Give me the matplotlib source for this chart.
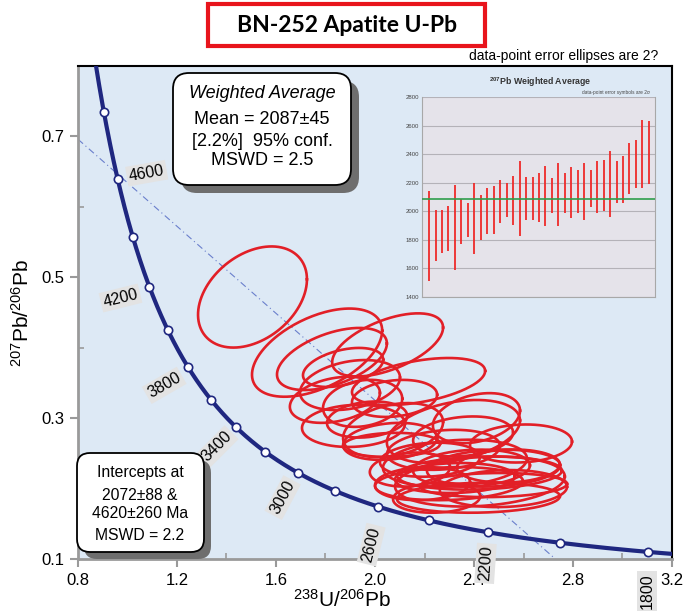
import numpy as np
import matplotlib
matplotlib.use('Agg')
import matplotlib.pyplot as plt
from matplotlib.patches import FancyBboxPatch, Rectangle
from matplotlib.transforms import IdentityTransform

plt.rcParams['font.family'] = ['Liberation Sans', 'DejaVu Sans']
plt.rcParams['mathtext.fontset'] = 'custom'
plt.rcParams['mathtext.rm'] = 'Liberation Sans'
plt.rcParams['mathtext.it'] = 'Liberation Sans:italic'
plt.rcParams['mathtext.bf'] = 'Liberation Sans:bold'

# decay constants (1/yr) and present-day 238U/235U
L238 = 1.55125e-10
L235 = 9.8485e-10
U85 = 137.88

# analyses: 238U/206Pb, 207Pb/206Pb, 2-sigma half widths, error correlation
ell_x = [1.505, 1.766, 2.051, 1.826, 1.871, 2.176, 1.838, 1.950, 1.913, 1.968,
         2.061, 2.410, 2.317, 2.590, 2.192, 2.249, 2.479, 2.422, 2.222, 2.390,
         2.519, 2.277, 2.079, 2.356, 2.539, 2.323, 2.141, 1.899,
         2.299, 2.424, 2.418, 2.323, 2.479, 2.073, 2.067]
ell_y = [0.472, 0.393, 0.404, 0.384, 0.372, 0.352, 0.326, 0.321, 0.289, 0.298,
         0.267, 0.300, 0.281, 0.264, 0.207, 0.187, 0.205, 0.222, 0.241, 0.229,
         0.200, 0.255, 0.328, 0.274, 0.232, 0.215, 0.227, 0.347,
         0.207, 0.210, 0.187, 0.236, 0.229, 0.283, 0.262]
ell_sx = [0.220, 0.263, 0.224, 0.222, 0.162, 0.269, 0.182, 0.160, 0.208, 0.162,
          0.190, 0.176, 0.269, 0.206, 0.192, 0.176, 0.297, 0.333, 0.202, 0.236,
          0.257, 0.228, 0.172, 0.202, 0.208, 0.242, 0.162, 0.202,
          0.299, 0.343, 0.329, 0.291, 0.269, 0.202, 0.196]
ell_sy = [0.0718, 0.0626, 0.0448, 0.0441, 0.0277, 0.0334, 0.0327, 0.0334, 0.0299, 0.0256,
          0.0263, 0.0355, 0.0448, 0.0270, 0.0235, 0.0213, 0.0171, 0.0235, 0.0242, 0.0263,
          0.0263, 0.0284, 0.0263, 0.0284, 0.0235, 0.0213, 0.0242, 0.0355,
          0.0235, 0.0355, 0.0213, 0.0334, 0.0263, 0.0384, 0.0171]
ell_rho = [0.35, 0.50, 0.55, 0.50, 0.40, 0.45, 0.30, 0.20, 0.10, 0.20,
           0.20, 0.30, 0.35, 0.10, 0.10, 0.10, 0.10, 0.15, 0.15, 0.15,
           0.10, 0.20, 0.20, 0.20, 0.10, 0.10, 0.15, 0.30,
           0.15, 0.20, 0.10, 0.20, 0.15, 0.30, 0.10]

# concordia age marks (Ma) and which ones get a label
mark_ages = [1800, 2000, 2200, 2400, 2600, 2800, 3000, 3200, 3400, 3600,
             3800, 4000, 4200, 4400, 4600, 4800]
label_ages = [1800, 2200, 2600, 3000, 3400, 3800, 4200, 4600]

# discordia intercepts (Ma)
lower_int = 2072
upper_int = 4620

# 207Pb weighted average inset (Ma), 2-sigma bar ends
wa_top = [2140, 2010, 2010, 2040, 2185, 2085, 2060, 2195, 2115, 2160, 2180, 2220,
          2195, 2245, 2350, 2240, 2240, 2270, 2320, 2230, 2340, 2270, 2310, 2290,
          2340, 2290, 2350, 2360, 2420, 2350, 2390, 2480, 2500, 2640, 2630]
wa_bot = [1515, 1650, 1710, 1720, 1590, 1770, 1820, 1700, 1800, 1840, 1840, 1920,
          1960, 1905, 1825, 1940, 1940, 1925, 1900, 1990, 1900, 1990, 1950, 1990,
          1940, 2030, 1990, 2000, 1960, 2055, 2055, 2120, 2160, 2160, 2190]
wa_mean = 2087

W, H = 684, 615
NAVY = '#1f2780'
RED = '#e21f27'


def tw(age_ma):
    t = np.asarray(age_ma, dtype=float) * 1e6
    e8 = np.exp(L238 * t) - 1
    e5 = np.exp(L235 * t) - 1
    return 1 / e8, e5 / e8 / U85


def fx(px):
    return px / W


def fy(py):
    return 1 - py / H


fig = plt.figure(figsize=(W / 100, H / 100), dpi=100)
ax = fig.add_axes([fx(78), fy(559), (672 - 78) / W, (559 - 66) / H])
ax.set_facecolor('#dde9f5')
ax.set_xlim(0.8, 3.2)
ax.set_ylim(0.1, 0.8)

# concordia
ages = np.linspace(1500, 5200, 600)
cx, cy = tw(ages)
ax.plot(cx, cy, color=NAVY, lw=3, zorder=4)
mx, my = tw(mark_ages)
ax.plot(mx, my, 'o', ms=6, mfc='white', mec=NAVY, mew=1.2, zorder=5)

label_off = {1800: (-1, -39, 90), 2200: (-3, -31, 86), 2600: (-7, -38, 76),
             3000: (-15, -25, 62), 3400: (-19, -19, 45), 3800: (-24, -18, 30),
             4200: (-29, -11, 14), 4600: (29, 6, 10)}
for a in label_ages:
    lx, ly = tw(a)
    dx, dy, rot = label_off[a]
    ax.annotate(str(a), (lx, ly), xytext=(dx, dy), textcoords='offset pixels',
                ha='center', va='center', rotation=rot, fontsize=11.5,
                rotation_mode='anchor',
                bbox=dict(boxstyle='square,pad=0.15', fc='#e3e3e3', ec='none'),
                zorder=3)

# discordia through the two intercepts
ix, iy = tw([lower_int, upper_int])
slope = (iy[1] - iy[0]) / (ix[1] - ix[0])
dx_line = np.array([0.8, ix[0] + (0.1 - iy[0]) / slope])
ax.plot(dx_line, iy[0] + slope * (dx_line - ix[0]), color='#6a7fcc', lw=0.8,
        ls=(0, (6, 3, 1, 3)), zorder=2)

# error ellipses
t = np.linspace(0, 2 * np.pi, 200)
for x0, y0, sx, sy, r in zip(ell_x, ell_y, ell_sx, ell_sy, ell_rho):
    ex = x0 + sx * np.cos(t)
    ey = y0 + sy * (r * np.cos(t) + np.sqrt(1 - r ** 2) * np.sin(t))
    ax.plot(ex, ey, color=RED, lw=1.9, zorder=3)

ax.set_xticks([0.8, 1.2, 1.6, 2.0, 2.4, 2.8, 3.2])
ax.set_xticks([1.0, 1.4, 1.8, 2.2, 2.6, 3.0], minor=True)
ax.set_yticks([0.1, 0.3, 0.5, 0.7])
ax.set_yticks([0.2, 0.4, 0.6], minor=True)
ax.tick_params(which='major', direction='out', length=6, width=1.5, color='#9a9a9a',
               labelsize=12, pad=4)
ax.tick_params(which='minor', direction='in', length=4, width=1.2, color='#9a9a9a')
for s in ['left', 'bottom']:
    ax.spines[s].set_color('#9a9a9a')
    ax.spines[s].set_linewidth(2)
for s in ['top', 'right']:
    ax.spines[s].set_color('black')
    ax.spines[s].set_linewidth(1.5)
ax.set_xlabel(r'$^{238}$U/$^{206}$Pb', fontsize=15)
ax.xaxis.set_label_coords(0.444, -0.06)
ax.set_ylabel(r'$^{207}$Pb/$^{206}$Pb', fontsize=15, labelpad=6)

# inset: weighted average
ins = fig.add_axes([fx(422), fy(297), (655 - 422) / W, (297 - 97) / H])
ins.set_facecolor('#e5e3ea')
idx = np.arange(len(wa_top))
ins.vlines(idx, wa_bot, wa_top, color='#ee2a2a', lw=1.3, zorder=3)
ins.axhline(wa_mean, color='#2f9e4c', lw=1.2, zorder=4)
ins.set_xlim(-1.1, len(wa_top) - 0.05)
ins.set_ylim(1400, 2800)
ins.set_yticks(np.arange(1400, 2801, 200))
ins.set_xticks([])
ins.tick_params(axis='y', labelsize=4.3, length=0, pad=2, labelcolor='#444444')
ins.grid(axis='y', color='#b4b2b8', lw=0.8)
ins.set_axisbelow(True)
for s in ['left', 'right', 'bottom']:
    ins.spines[s].set_color('#a8a8a8')
    ins.spines[s].set_linewidth(0.8)
ins.spines['top'].set_visible(False)
fig.text(fx(540), fy(82), r'$\mathbf{^{207}Pb}$ Weighted Average', fontsize=6.3,
         fontweight='bold', ha='center', va='center', color='#333333')
fig.text(fx(650), fy(92.5), 'data-point error symbols are 2σ', fontsize=3.4,
         ha='right', va='center', color='#444444')

# rounded note boxes with shadow
def note_box(x0, y0, x1, y1, rad, shadow):
    sh = FancyBboxPatch((x0 + shadow, H - y1 - shadow), x1 - x0, y1 - y0,
                        boxstyle=f'round,pad=0,rounding_size={rad}',
                        transform=IdentityTransform(), fc='#6e6e6e', ec='none',
                        zorder=10)
    bx = FancyBboxPatch((x0, H - y1), x1 - x0, y1 - y0,
                        boxstyle=f'round,pad=0,rounding_size={rad}',
                        transform=IdentityTransform(), fc='white', ec='black',
                        lw=1.3, zorder=11)
    fig.add_artist(sh)
    fig.add_artist(bx)


note_box(173, 73, 351, 185, 16, 8)
wa_lines = ['Mean = 2087±45', '[2.2%]  95% conf.', 'MSWD = 2.5']
fig.text(fx(262), fy(94), 'Weighted Average', fontsize=13, style='italic',
         ha='center', va='center', zorder=12)
for yy, s in zip([120, 141, 161], wa_lines):
    fig.text(fx(262), fy(yy), s, fontsize=13, ha='center', va='center', zorder=12)

note_box(77, 453, 204, 552, 13, 7)
int_lines = ['Intercepts at', f'{lower_int}±88 &', f'{upper_int}±260 Ma', 'MSWD = 2.2']
for yy, s in zip([473, 495, 514, 535], int_lines):
    fig.text(fx(140), fy(yy), s, fontsize=11.3, ha='center', va='center', zorder=12)

# title in red frame
fig.add_artist(Rectangle((fx(208), fy(46)), fx(485) - fx(208), fy(4) - fy(46),
                         transform=fig.transFigure, fc='white', ec='#e8141c', lw=3))
fig.text(fx(347), fy(26), 'BN-252 Apatite U-Pb', fontsize=16.5, fontweight='bold',
         family='Lato', ha='center', va='center')
fig.text(fx(658), fy(56), 'data-point error ellipses are 2?', fontsize=10,
         ha='right', va='center')

fig.savefig('out.png', dpi=100)
